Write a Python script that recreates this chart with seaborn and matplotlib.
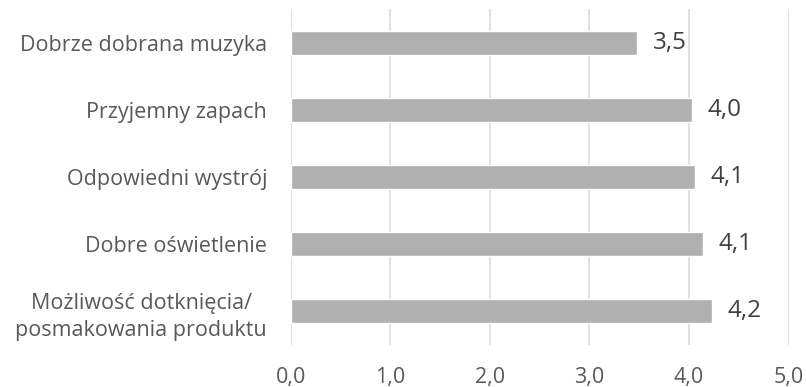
import matplotlib
matplotlib.use("Agg")
import matplotlib.pyplot as plt
import seaborn as sns
import pandas as pd

categories = [
    "Dobrze dobrana muzyka",
    "Przyjemny zapach",
    "Odpowiedni wystrój",
    "Dobre oświetlenie",
    "Możliwość dotknięcia/\nposmakowania produktu",
]
values = [3.48, 4.03, 4.06, 4.14, 4.23]
x_ticks = [0, 1, 2, 3, 4, 5]

sns.set_theme(style="white")
plt.rcParams["font.family"] = ["Open Sans", "DejaVu Sans"]

df = pd.DataFrame({"kategoria": categories, "ocena": values})

fig = plt.figure(figsize=(8.06, 3.87), dpi=100)
ax = fig.add_axes([0.3607, 0.1085, 0.6176, 0.8682])

sns.barplot(data=df, x="ocena", y="kategoria", orient="h", color="#B0B0B0",
            width=0.355, saturation=1, ax=ax, zorder=3)

ax.set_xlim(0, 5)
ax.set_xticks(x_ticks)
ax.set_xticklabels([f"{t:.1f}".replace(".", ",") for t in x_ticks])
ax.set_xlabel("")
ax.set_ylabel("")

for s in ax.spines.values():
    s.set_visible(False)
ax.grid(axis="x", color="#D9D9D9", linewidth=1.1, zorder=0)
ax.grid(axis="y", visible=False)
ax.tick_params(axis="x", length=0, pad=16, labelsize=15.5, labelcolor="#595959")
ax.tick_params(axis="y", length=0, pad=17, labelsize=15.5, labelcolor="#595959")
for lbl in ax.get_yticklabels():
    lbl.set_multialignment("center")
    lbl.set_linespacing(1.35)

ax.bar_label(ax.containers[0], fmt=lambda v: f"{v:.1f}".replace(".", ","),
             padding=11.5, fontsize=17.5, color="#404040")

fig.savefig("out.png", dpi=100)
